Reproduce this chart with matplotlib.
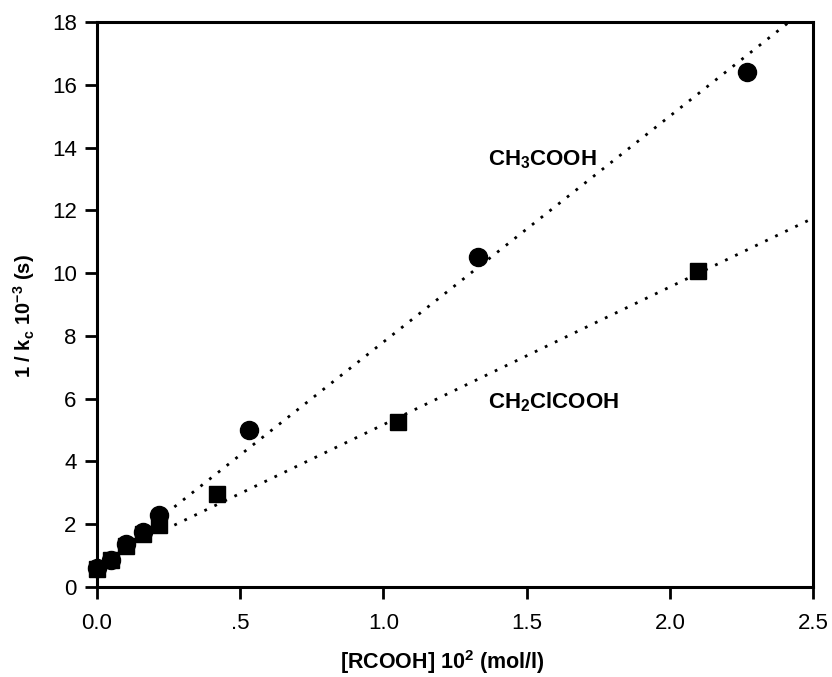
import matplotlib
matplotlib.use("Agg")
import matplotlib.pyplot as plt

plt.rcParams['font.family'] = ['Liberation Sans', 'DejaVu Sans']
plt.rcParams['mathtext.fontset'] = 'custom'
plt.rcParams['mathtext.rm'] = 'Liberation Sans:bold'
plt.rcParams['mathtext.bf'] = 'Liberation Sans:bold'
plt.rcParams['mathtext.it'] = 'Liberation Sans:bold'
plt.rcParams['mathtext.default'] = 'bf'

# Data
acetic_x = [0.0, 0.05, 0.10, 0.16, 0.215, 0.53, 1.33, 2.27]
acetic_y = [0.6, 0.86, 1.38, 1.75, 2.28, 5.0, 10.5, 16.4]
chloro_x = [0.0, 0.05, 0.10, 0.16, 0.215, 0.42, 1.05, 2.10]
chloro_y = [0.58, 0.86, 1.32, 1.68, 1.98, 2.95, 5.25, 10.06]

# fitted lines (endpoints)
acetic_fit_x = [0.27, 2.5]
acetic_fit_y = [2.55, 18.6]
chloro_fit_x = [0.27, 2.5]
chloro_fit_y = [1.97, 11.75]

x_ticks = [0.0, 0.5, 1.0, 1.5, 2.0, 2.5]
x_ticklabels = ['0.0', '.5', '1.0', '1.5', '2.0', '2.5']
y_ticks = [0, 2, 4, 6, 8, 10, 12, 14, 16, 18]

fig = plt.figure(figsize=(8.32, 6.77), dpi=100)
ax = fig.add_axes([0.1166, 0.133, 0.8606, 0.8345])

ax.plot(acetic_fit_x, acetic_fit_y, color='black', linestyle=(0, (1, 3)), lw=2)
ax.plot(chloro_fit_x, chloro_fit_y, color='black', linestyle=(0, (1, 3)), lw=2)
ax.plot(acetic_x, acetic_y, 'o', color='black', ms=13, clip_on=False, zorder=5)
ax.plot(chloro_x, chloro_y, 's', color='black', ms=11.5, clip_on=False, zorder=5)

ax.text(1.365, 13.6, r'CH$_3$COOH', fontsize=16, fontweight='bold', va='center', ha='left')
ax.text(1.365, 5.9, r'CH$_2$ClCOOH', fontsize=16, fontweight='bold', va='center', ha='left')

ax.set_xlim(0, 2.5)
ax.set_ylim(0, 18)
ax.set_xticks(x_ticks)
ax.set_xticklabels(x_ticklabels)
ax.set_yticks(y_ticks)
ax.tick_params(direction='out', length=8.6, width=2, labelsize=16)
ax.tick_params(axis='y', pad=6)
ax.tick_params(axis='x', pad=10)
for s in ax.spines.values():
    s.set_linewidth(2.2)

ax.set_xlabel(r'[RCOOH] 10$^2$ (mol/l)', fontsize=15.5, fontweight='bold')
ax.set_ylabel(r'1 / k$_c$ 10$^{-3}$ (s)', fontsize=14.5, fontweight='bold')
ax.xaxis.set_label_coords(0.483, -0.108)
ax.yaxis.set_label_coords(-0.084, 0.48)

fig.savefig('out.png', dpi=100)
